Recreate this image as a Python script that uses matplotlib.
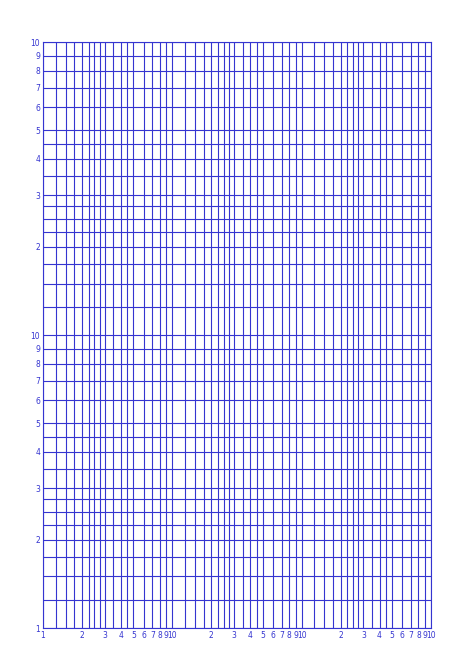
import numpy as np
import matplotlib
matplotlib.use("Agg")
import matplotlib.pyplot as plt

x_decades = 3
y_decades = 2
sub_lines = [1, 1.25, 1.5, 1.75, 2, 2.25, 2.5, 2.75, 3, 3.5, 4, 4.5, 5, 6, 7, 8, 9]
label_vals = [2, 3, 4, 5, 6, 7, 8, 9]
color = "#3535d0"

fig = plt.figure(figsize=(4.74, 6.71), dpi=100)
ax = fig.add_axes([0.0907, 0.064, 0.8186, 0.873])
ax.set_xscale("log"); ax.set_yscale("log")
ax.set_xlim(1, 10**x_decades); ax.set_ylim(1, 10**y_decades)

for d in range(x_decades):
    for v in sub_lines:
        ax.axvline(v * 10**d, color=color, lw=0.8, snap=True)
ax.axvline(10**x_decades, color=color, lw=0.8, snap=True)
for d in range(y_decades):
    for v in sub_lines:
        ax.axhline(v * 10**d, color=color, lw=0.8, snap=True)
ax.axhline(10**y_decades, color=color, lw=0.8, snap=True)

def ticks(nd):
    pos, lab = [1], ["1"]
    for d in range(nd):
        for v in label_vals:
            pos.append(v * 10**d); lab.append(str(v))
        pos.append(10**(d + 1)); lab.append("10")
    return pos, lab

xp, xl = ticks(x_decades)
yp, yl = ticks(y_decades)
ax.set_xticks(xp); ax.set_xticklabels(xl)
ax.set_yticks(yp); ax.set_yticklabels(yl)
ax.minorticks_off()
ax.tick_params(length=0, labelsize=5.5, colors=color, pad=2)
for s in ax.spines.values():
    s.set_color(color); s.set_linewidth(0.8)

fig.savefig("out.png", dpi=100)
